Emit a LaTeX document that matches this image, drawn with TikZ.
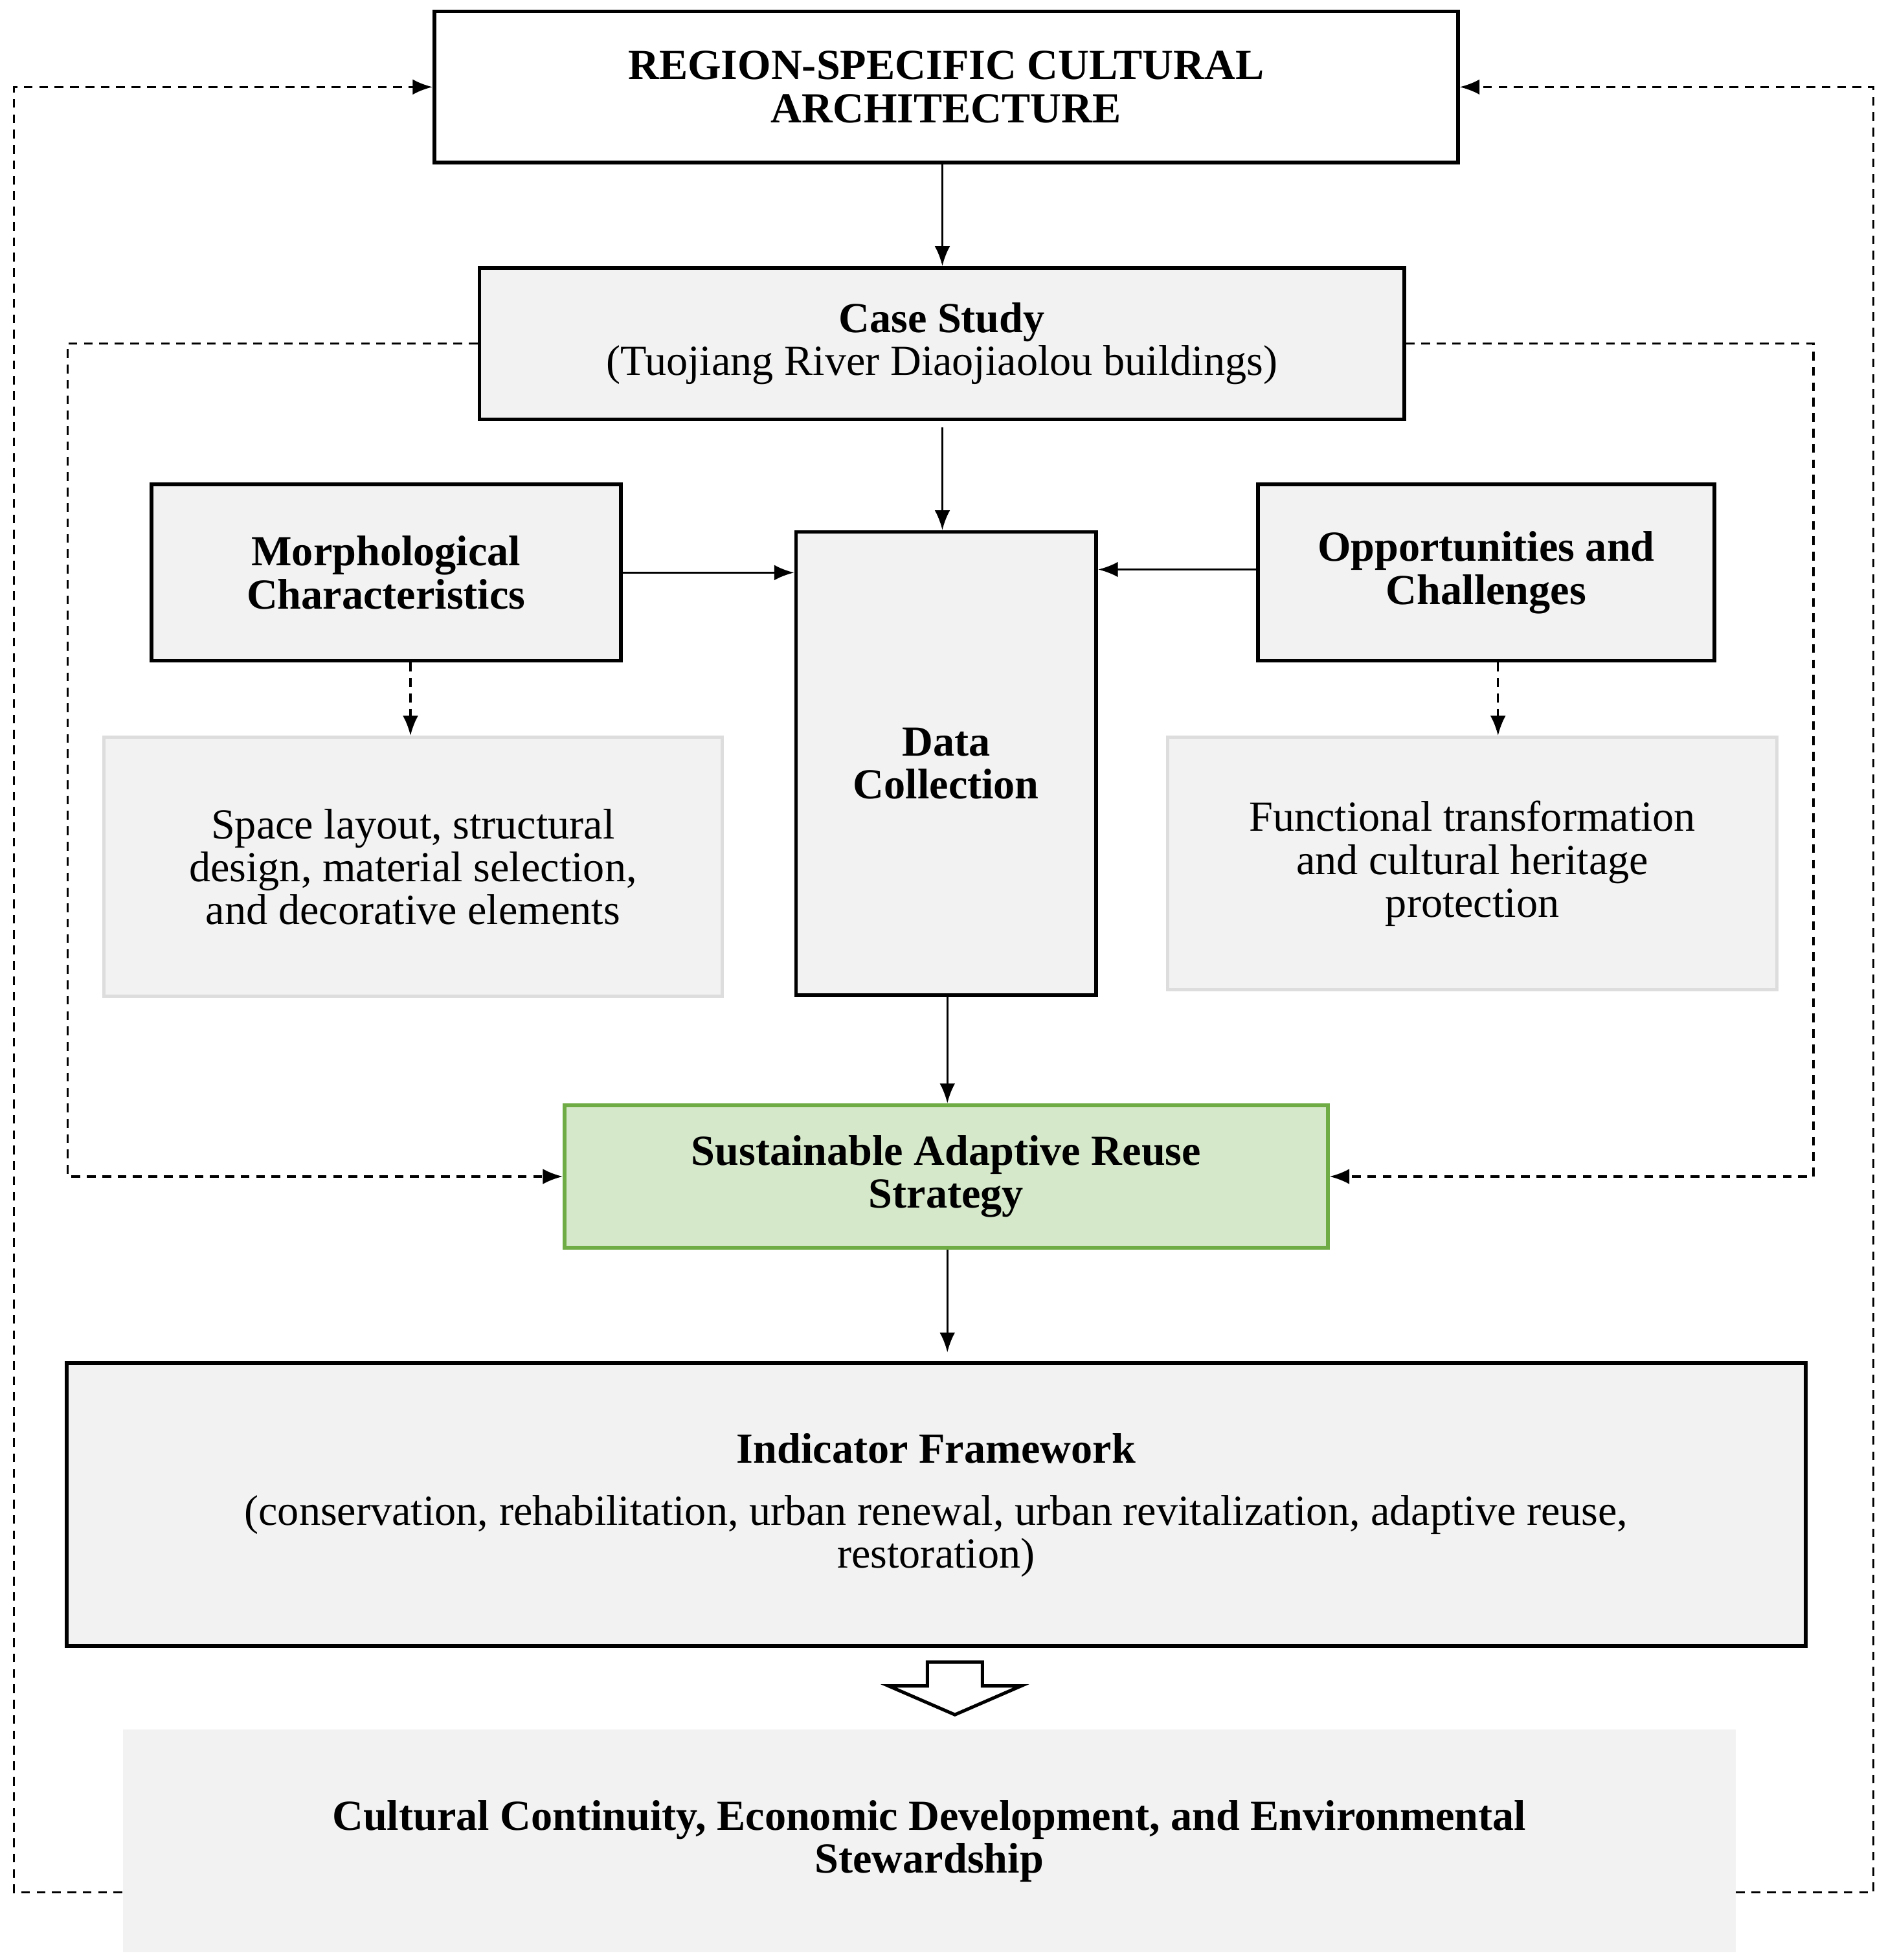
\documentclass[tikz,border=0pt]{standalone}
\usepackage{fontspec}
\setmainfont{Liberation Serif}
\usetikzlibrary{arrows.meta}
\definecolor{boxgray}{HTML}{F2F2F2}
\definecolor{lightborder}{HTML}{DDDDDD}
\definecolor{greenfill}{HTML}{D5E8C9}
\definecolor{greenline}{HTML}{6FAC46}
\begin{document}
\begin{tikzpicture}[x=0.02cm,y=-0.02cm,
  txt/.style={align=center,font=\fontsize{19.5}{19.5}\selectfont},
  box/.style={txt,draw=black,line width=1.7pt,fill=boxgray,inner sep=0pt},
  lbox/.style={txt,draw=lightborder,line width=1.5pt,fill=boxgray,inner sep=0pt},
  arr/.style={line width=1pt,-{Latex[length=9pt,width=7pt]}},
  darr/.style={arr,dashed,dash pattern=on 4pt off 3pt}]
\useasboundingbox (0,0) rectangle (1507,1566);
\node[box,fill=white,minimum width=16.36cm,minimum height=2.42cm] (top) at (756,69.5) {\bfseries REGION-SPECIFIC CULTURAL\\ \bfseries ARCHITECTURE};
\node[box,minimum width=14.78cm,minimum height=2.42cm] (case) at (752.5,274.5) {\bfseries Case Study\\ (Tuojiang River Diaojiaolou buildings)};
\node[box,minimum width=7.5cm,minimum height=2.82cm] (morph) at (308.5,457.5) {\bfseries Morphological\\ \bfseries Characteristics};
\node[box,minimum width=4.8cm,minimum height=7.4cm] (data) at (756,610) {\bfseries Data\\ \bfseries Collection};
\node[box,minimum width=7.3cm,minimum height=2.82cm] (opp) at (1187.5,457.5) {\bfseries Opportunities and\\ \bfseries Challenges};
\node[lbox,minimum width=9.88cm,minimum height=4.14cm] (space) at (330,692.5) {Space layout, structural\\ design, material selection,\\ and decorative elements};
\node[lbox,minimum width=9.74cm,minimum height=4.04cm] (func) at (1176.5,690) {Functional transformation\\ and cultural heritage\\ protection};
\node[box,draw=greenline,fill=greenfill,minimum width=12.2cm,minimum height=2.28cm] (sus) at (756,940) {\bfseries Sustainable Adaptive Reuse\\ \bfseries Strategy};
\node[box,minimum width=27.8cm,minimum height=4.52cm] (ind) at (748,1202) {\rule{0pt}{0.5cm}\bfseries Indicator Framework\\[0.3cm] (conservation, rehabilitation, urban renewal, urban revitalization, adaptive reuse,\\ restoration)};
\node[txt,fill=boxgray,inner sep=0pt,minimum width=25.78cm,minimum height=3.56cm] (final) at (742.5,1471) {\bfseries Cultural Continuity, Economic Development, and Environmental\\ \bfseries Stewardship};
% solid arrows
\coordinate (c1) at (753,0);
\coordinate (c2) at (757,0);
\draw[arr] (c1 |- top.south) -- (c1 |- case.north);
\draw[arr] ([yshift=-0.1cm]c1 |- case.south) -- (c1 |- data.north);
\draw[arr] (morph.east) -- (morph.east -| data.west);
\draw[arr] ([yshift=0.05cm]opp.west) -- ([yshift=0.05cm]opp.west -| data.east);
\draw[arr] (c2 |- data.south) -- (c2 |- sus.north);
\draw[arr] (c2 |- sus.south) -- ([yshift=0.14cm]c2 |- ind.north);
% dashed short
\coordinate (m1) at (328,0);
\coordinate (o1) at (1197,0);
\draw[darr] (m1 |- morph.south) -- (m1 |- space.north);
\draw[darr] (o1 |- opp.south) -- (o1 |- func.north);
% inner dashed
\coordinate (IL) at (54,940);
\coordinate (IR) at (1449,940);
\draw[darr] (case.west) -| (IL) -- (sus.west);
\draw[darr] (case.east) -| (IR) -- (sus.east);
% outer dashed
\coordinate (L1) at (11,1512);
\coordinate (R1) at (1497,1512);
\draw[darr] (final.west |- L1) -- (L1) -- (L1 |- top.west) -- (top.west);
\draw[darr] (final.east |- R1) -- (R1) -- (R1 |- top.east) -- (top.east);
% hollow arrow
\draw[line width=1.5pt,fill=white,line join=miter] (741,1328) -- (785,1328) -- (785,1347) -- (816,1347) -- (763,1370) -- (710,1347) -- (741,1347) -- cycle;
\end{tikzpicture}
\end{document}
